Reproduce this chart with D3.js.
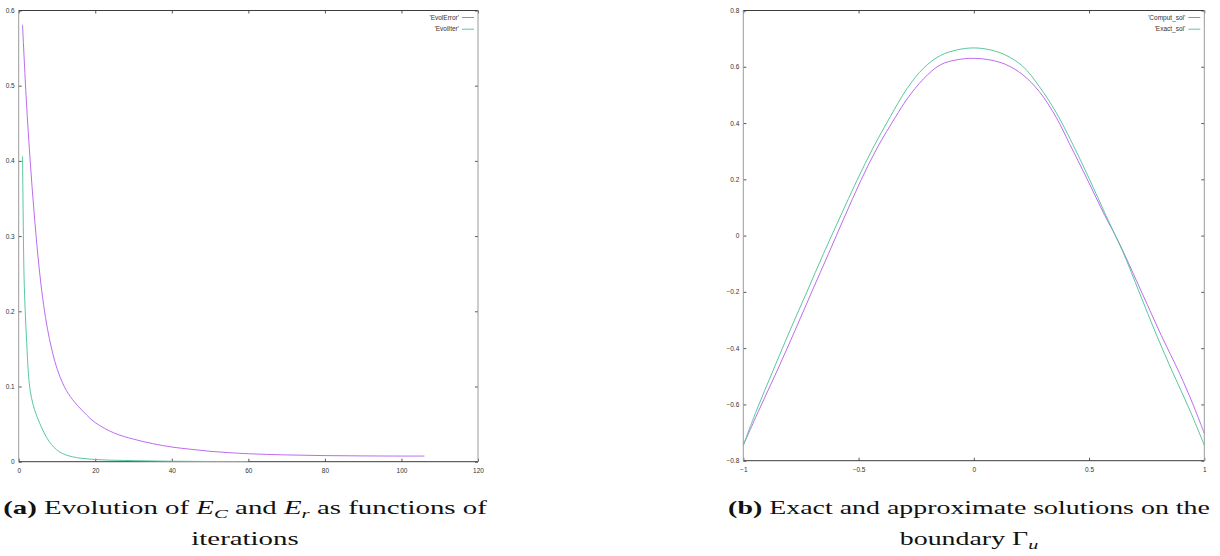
<!DOCTYPE html>
<html>
<head>
<meta charset="utf-8">
<script src="https://cdn.jsdelivr.net/npm/d3@7"></script>
<style>
  html, body { margin: 0; padding: 0; background: #fff; }
  svg { display: block; }
  .tick text { font-family: "Liberation Sans Narrow", "Liberation Sans", sans-serif; font-size: 6.5px; fill: #333; }
  .legend text { font-family: "Liberation Sans Narrow", "Liberation Sans", sans-serif; font-size: 6.5px; fill: #333; }
  .caption { font-family: "Liberation Serif", serif; font-size: 18px; fill: #111; }
</style>
</head>
<body>
<svg id="chart" width="1220" height="556"></svg>
<script>
// panel (a): convergence history
const errIter = [1, 2, 3, 4, 5, 6, 7, 8, 9, 10, 12, 14, 17, 20, 25, 30, 35, 40, 45, 50, 55, 60, 70, 80, 90, 100, 106];
const errVal  = [0.581, 0.48, 0.40, 0.333, 0.275, 0.228, 0.192, 0.164, 0.142, 0.124, 0.099, 0.083, 0.066, 0.052, 0.038, 0.030, 0.024, 0.0195, 0.0165, 0.0138, 0.0120, 0.0106, 0.0090, 0.0081, 0.0077, 0.0075, 0.0075];

const iterIter = [1, 1.15, 1.4, 1.7, 2.1, 2.6, 3, 3.8, 5.5, 8, 10.6, 14, 20, 30, 40, 50, 60];
const iterVal  = [0.406, 0.335, 0.246, 0.2, 0.157, 0.113, 0.095, 0.075, 0.051, 0.0266, 0.0133, 0.0066, 0.003, 0.0014, 0.0006, 0.0003, 0.0002];

const aXTicks = [0, 20, 40, 60, 80, 100, 120];
const aYTicks = [0, 0.1, 0.2, 0.3, 0.4, 0.5, 0.6];
const aLabels = ["'EvolError'", "'EvolIter'"];

// panel (b): solutions on the boundary
const compX = [-1, -0.932, -0.852, -0.775, -0.703, -0.630, -0.561, -0.490, -0.417, -0.340, -0.290, -0.217, -0.145, -0.072, 0,
               0.072, 0.139, 0.212, 0.284, 0.357, 0.415, 0.491, 0.568, 0.625, 0.731, 0.813, 0.893, 0.950, 1];
const compY = [-0.745, -0.620, -0.478, -0.336, -0.200, -0.064, 0.066, 0.196, 0.315, 0.421, 0.485, 0.558, 0.607, 0.625, 0.630,
               0.624, 0.608, 0.572, 0.512, 0.421, 0.327, 0.202, 0.072, -0.017, -0.206, -0.354, -0.490, -0.598, -0.703];

const exactX = [-1, -0.942, -0.870, -0.797, -0.724, -0.652, -0.580, -0.507, -0.435, -0.362, -0.290, -0.217, -0.145, -0.072, 0,
                0.072, 0.139, 0.212, 0.284, 0.357, 0.429, 0.502, 0.574, 0.647, 0.719, 0.791, 0.864, 0.937, 1];
const exactY = [-0.745, -0.620, -0.478, -0.336, -0.200, -0.064, 0.066, 0.196, 0.315, 0.423, 0.522, 0.596, 0.640, 0.660, 0.667,
                0.660, 0.641, 0.602, 0.530, 0.438, 0.325, 0.200, 0.070, -0.058, -0.204, -0.350, -0.488, -0.620, -0.745];

const bXTicks = [-1, -0.5, 0, 0.5, 1];
const bYTicks = [-0.8, -0.6, -0.4, -0.2, 0, 0.2, 0.4, 0.6, 0.8];
const bLabels = ["'Comput_sol'", "'Exact_sol'"];

const PURPLE = "#bb6cf0";
const GREEN = "#58c8a0";

const svg = d3.select("#chart");

function drawPanel(cfg) {
  const x = d3.scaleLinear().domain(cfg.xDomain).range([cfg.left, cfg.right]);
  const y = d3.scaleLinear().domain(cfg.yDomain).range([cfg.bottom, cfg.top]);
  const g = svg.append("g");

  // ticks, pointing inwards on all four sides
  g.append("g")
    .attr("transform", `translate(0,${cfg.bottom})`)
    .call(d3.axisBottom(x).tickValues(cfg.xTicks).tickSizeInner(-3).tickSizeOuter(0).tickPadding(7).tickFormat(d3.format("")));
  g.append("g")
    .attr("transform", `translate(0,${cfg.top})`)
    .call(d3.axisTop(x).tickValues(cfg.xTicks).tickSizeInner(-3).tickSizeOuter(0).tickFormat(""));
  g.append("g")
    .attr("transform", `translate(${cfg.left},0)`)
    .call(d3.axisLeft(y).tickValues(cfg.yTicks).tickSizeInner(-3).tickSizeOuter(0).tickPadding(4).tickFormat(d3.format("")));
  g.append("g")
    .attr("transform", `translate(${cfg.right},0)`)
    .call(d3.axisRight(y).tickValues(cfg.yTicks).tickSizeInner(-3).tickSizeOuter(0).tickFormat(""));

  g.selectAll(".domain").remove();
  g.selectAll(".tick line").attr("stroke", "#555");

  // frame
  g.append("line").attr("x1", cfg.left).attr("x2", cfg.right).attr("y1", cfg.top).attr("y2", cfg.top).attr("stroke", "#3c3c3c");
  g.append("line").attr("x1", cfg.left).attr("x2", cfg.right).attr("y1", cfg.bottom).attr("y2", cfg.bottom).attr("stroke", "#3c3c3c");
  g.append("line").attr("x1", cfg.left).attr("x2", cfg.left).attr("y1", cfg.top).attr("y2", cfg.bottom).attr("stroke", "#9a9a9a");
  g.append("line").attr("x1", cfg.right).attr("x2", cfg.right).attr("y1", cfg.top).attr("y2", cfg.bottom).attr("stroke", "#9a9a9a");

  const line = d3.line()
    .x(d => x(d[0]))
    .y(d => y(d[1]))
    .curve(d3.curveCatmullRom.alpha(0.5));

  cfg.series.forEach((s, i) => {
    g.append("path")
      .datum(d3.zip(s.xs, s.ys))
      .attr("fill", "none")
      .attr("stroke", s.color)
      .attr("stroke-width", 1)
      .attr("d", line);

    const ly = cfg.top + 7 + i * 11.7;
    const lg = g.append("g").attr("class", "legend");
    lg.append("text")
      .attr("x", cfg.right - 19)
      .attr("y", ly)
      .attr("dy", "0.35em")
      .attr("text-anchor", "end")
      .text(s.label);
    lg.append("line")
      .attr("x1", cfg.right - 16)
      .attr("x2", cfg.right - 4)
      .attr("y1", ly)
      .attr("y2", ly)
      .attr("stroke", s.color)
      .attr("stroke-width", 1);
  });
}

drawPanel({
  left: 18.7, right: 478, top: 10.5, bottom: 461.7,
  xDomain: [0, 120], yDomain: [0, 0.6],
  xTicks: aXTicks, yTicks: aYTicks,
  series: [
    { xs: errIter, ys: errVal, color: PURPLE, label: aLabels[0] },
    { xs: iterIter, ys: iterVal, color: GREEN, label: aLabels[1] }
  ]
});

drawPanel({
  left: 743.3, right: 1204.3, top: 10.5, bottom: 460.7,
  xDomain: [-1, 1], yDomain: [-0.8, 0.8],
  xTicks: bXTicks, yTicks: bYTicks,
  series: [
    { xs: compX, ys: compY, color: PURPLE, label: bLabels[0] },
    { xs: exactX, ys: exactY, color: GREEN, label: bLabels[1] }
  ]
});

// captions: the serif font is narrower than the original, so stretch it
// horizontally until the first line has the original width
function captionLine(cx, cy, parts) {
  const g = svg.append("g").attr("transform", `translate(${cx},${cy})`);
  const t = g.append("text")
    .attr("class", "caption")
    .attr("text-anchor", "middle");
  parts.forEach(p => {
    const ts = t.append("tspan").text(p.t);
    if (p.b) ts.attr("font-weight", "bold");
    if (p.i) ts.attr("font-style", "italic");
    if (p.sub) ts.attr("font-size", "13px").attr("dy", 4);
    if (p.up) ts.attr("dy", -4);
  });
  return { g, width: t.node().getComputedTextLength() };
}

function caption(cx, y1, y2, width, line1, line2) {
  const a = captionLine(cx, y1, line1);
  const b = captionLine(cx, y2, line2);
  const s = width / a.width;
  a.g.attr("transform", `translate(${cx},${y1}) scale(${s},1)`);
  b.g.attr("transform", `translate(${cx},${y2}) scale(${s},1)`);
}

caption(245, 514, 545, 484, [
  { t: "(a)", b: true },
  { t: "  Evolution of " },
  { t: "E", i: true },
  { t: "C", i: true, sub: true },
  { t: " and ", up: true },
  { t: "E", i: true },
  { t: "r", i: true, sub: true },
  { t: " as functions of", up: true }
], [{ t: "iterations" }]);

caption(969, 514, 545, 482, [
  { t: "(b)", b: true },
  { t: "  Exact and approximate solutions on the" }
], [
  { t: "boundary Γ" },
  { t: "u", i: true, sub: true }
]);
</script>
</body>
</html>
